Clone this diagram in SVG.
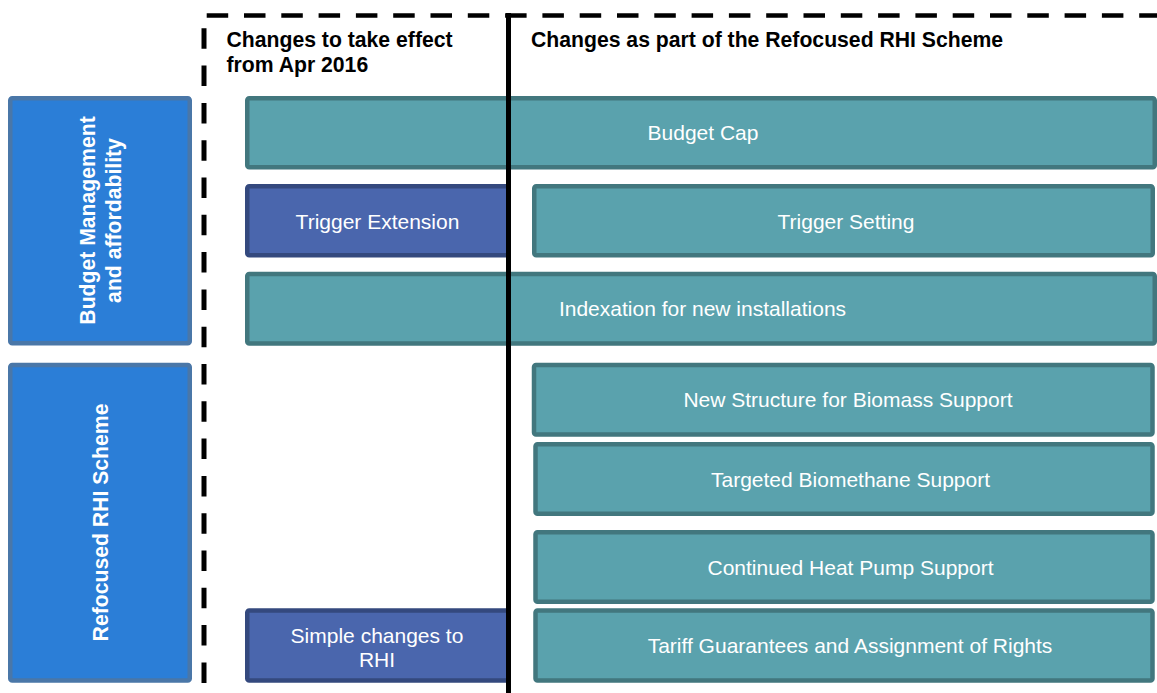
<svg xmlns="http://www.w3.org/2000/svg" width="1157" height="693" viewBox="0 0 1157 693">
<style>
.side{fill:#2b7ed7;stroke:#4a77a8;stroke-width:4.5}
.teal{fill:#5aa2ad;stroke:#42777e;stroke-width:4.5}
.navy{fill:#4a66ad;stroke:#34497e;stroke-width:4.5}
.lbl{font-family:"Liberation Sans",Arial,sans-serif;font-size:21px;fill:#ffffff;text-anchor:middle}
.side-lbl{font-family:"Liberation Sans",Arial,sans-serif;font-size:21.2px;font-weight:bold;fill:#ffffff;text-anchor:middle}
.hdr{font-family:"Liberation Sans",Arial,sans-serif;font-size:21.2px;font-weight:bold;fill:#000000}
</style>
<rect width="1157" height="693" fill="#ffffff"/>

<g id="node-budget-management">
<rect class="side" x="10.25" y="98.25" width="179.5" height="245" rx="2"/>
<g transform="translate(0,220.5) rotate(-90)">
<text class="side-lbl" x="0" y="95">Budget Management</text>
<text class="side-lbl" x="0" y="121">and affordability</text>
</g>
</g>

<g id="node-refocused-rhi">
<rect class="side" x="10.25" y="365" width="179.5" height="315.5" rx="2"/>
<text class="side-lbl" transform="translate(0,522.5) rotate(-90)" x="0" y="108">Refocused RHI Scheme</text>
</g>

<g id="header-apr2016">
<text class="hdr" x="226.5" y="46.7">Changes to take effect</text>
<text class="hdr" x="226.5" y="71.7">from Apr 2016</text>
</g>
<g id="header-refocused">
<text class="hdr" x="531" y="47">Changes as part of the Refocused RHI Scheme</text>
</g>

<g id="node-budget-cap">
<rect class="teal" x="247.25" y="98.25" width="907.5" height="69" rx="2"/>
<text class="lbl" x="703" y="140.2">Budget Cap</text>
</g>

<g id="node-trigger-extension">
<rect class="navy" x="247.25" y="186.25" width="261.5" height="69" rx="2"/>
<text class="lbl" x="377.5" y="228.5">Trigger Extension</text>
</g>

<g id="node-trigger-setting">
<rect class="teal" x="534.25" y="186.25" width="618.5" height="69" rx="2"/>
<text class="lbl" x="846" y="228.5">Trigger Setting</text>
</g>

<g id="node-indexation">
<rect class="teal" x="247.25" y="274" width="907.5" height="69.5" rx="2"/>
<text class="lbl" x="702.5" y="316.2">Indexation for new installations</text>
</g>

<g id="node-biomass">
<rect class="teal" x="534" y="365" width="618.5" height="69.5" rx="2"/>
<text class="lbl" x="848" y="407.2">New Structure for Biomass Support</text>
</g>

<g id="node-biomethane">
<rect class="teal" x="535.5" y="444.25" width="617" height="69.5" rx="2"/>
<text class="lbl" x="850.5" y="486.5">Targeted Biomethane Support</text>
</g>

<g id="node-heat-pump">
<rect class="teal" x="535.5" y="532.25" width="617" height="69.5" rx="2"/>
<text class="lbl" x="850.5" y="574.5">Continued Heat Pump Support</text>
</g>

<g id="node-tariff">
<rect class="teal" x="535.5" y="610.5" width="617" height="70" rx="2"/>
<text class="lbl" x="850" y="653">Tariff Guarantees and Assignment of Rights</text>
</g>

<g id="node-simple-changes">
<rect class="navy" x="247.25" y="610.5" width="261.5" height="70" rx="2"/>
<text class="lbl" x="377" y="642.7">Simple changes to</text>
<text class="lbl" x="377" y="666.7">RHI</text>
</g>

<g id="connectors">
<line x1="206.7" y1="15.5" x2="1157" y2="15.5" stroke="#000" stroke-width="4.5" stroke-dasharray="21.5 15.8"/>
<line x1="204" y1="28.3" x2="204" y2="693" stroke="#000" stroke-width="5" stroke-dasharray="20.5 16.8"/>
<line x1="508.5" y1="13" x2="508.5" y2="693" stroke="#000" stroke-width="5"/>
</g>
</svg>
